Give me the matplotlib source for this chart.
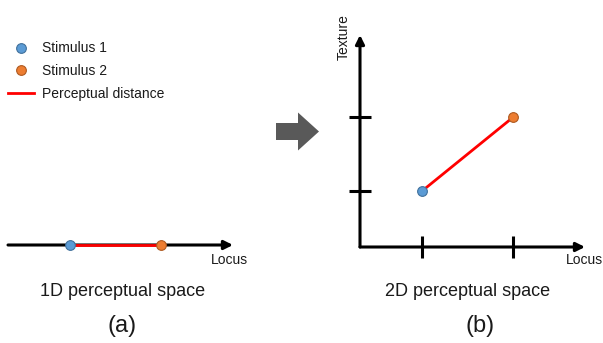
import matplotlib
matplotlib.use("Agg")
import matplotlib.pyplot as plt
from matplotlib.lines import Line2D
from matplotlib.patches import FancyArrow

plt.rcParams['font.family'] = ['Liberation Sans', 'DejaVu Sans']

# positions of the two stimuli (arbitrary units)
locus = [1.0, 2.47]
texture = [1.0, 2.32]
stim_names = ['Stimulus 1', 'Stimulus 2']
stim_colors = ['#5B9BD5', '#ED7D31']
stim_edges = ['#41719C', '#AE5A21']
dist_label = 'Perceptual distance'
titles = ['1D perceptual space', '2D perceptual space']
panels = ['(a)', '(b)']

x_max, y_max = 3.63, 3.79
txt = '#1a1a1a'

fig = plt.figure(figsize=(6.03, 3.43), dpi=100)

# background canvas in pixel units for text / arrow placement
bg = fig.add_axes([0, 0, 1, 1])
bg.set_xlim(0, 603)
bg.set_ylim(343, 0)
bg.axis('off')

# (a) 1D space
ax_a = fig.add_axes([8 / 603, (343 - 245 - 10) / 343, 225 / 603, 20 / 343])
ax_a.set_xlim(0, x_max)
ax_a.set_ylim(-1, 1)
ax_a.axis('off')
ax_a.annotate('', xy=(x_max, 0), xytext=(0, 0),
              arrowprops=dict(arrowstyle='-|>', lw=2.2, color='k',
                              mutation_scale=13, shrinkA=0, shrinkB=0))
ax_a.plot(locus, [0, 0], color='red', lw=2, zorder=3, solid_capstyle='butt')
for x, c, e in zip(locus, stim_colors, stim_edges):
    ax_a.plot(x, 0, 'o', ms=7, color=c, mec=e, mew=0.8, zorder=4, clip_on=False)

# (b) 2D space
ax_b = fig.add_axes([360 / 603, (343 - 247) / 343, 225 / 603, 212 / 343])
ax_b.set_xlim(0, x_max)
ax_b.set_ylim(0, y_max)
for s in ax_b.spines.values():
    s.set_visible(False)
ax_b.set_xticks(locus)
ax_b.set_yticks(texture)
ax_b.tick_params(direction='inout', length=16, width=2.2, color='k',
                 labelbottom=False, labelleft=False)
ax_b.annotate('', xy=(x_max, 0), xytext=(0, 0),
              arrowprops=dict(arrowstyle='-|>', lw=2.2, color='k',
                              mutation_scale=13, shrinkA=0, shrinkB=0))
ax_b.annotate('', xy=(0, y_max), xytext=(0, 0),
              arrowprops=dict(arrowstyle='-|>', lw=2.2, color='k',
                              mutation_scale=13, shrinkA=0, shrinkB=0))
ax_b.plot(locus, texture, color='red', lw=2, zorder=3)
for x, y, c, e in zip(locus, texture, stim_colors, stim_edges):
    ax_b.plot(x, y, 'o', ms=7, color=c, mec=e, mew=0.8, zorder=4, clip_on=False)

# legend
handles = [Line2D([], [], ls='', marker='o', ms=7, color=c, mec=e, mew=0.8)
           for c, e in zip(stim_colors, stim_edges)]
handles.append(Line2D([], [], color='red', lw=2))
fig.legend(handles, stim_names + [dist_label], loc='upper left',
           bbox_to_anchor=(8 / 603, 1 - 41.5 / 343), frameon=False,
           fontsize=10, handlelength=1.87, handletextpad=0.58,
           labelspacing=0.62, borderpad=0, borderaxespad=0, labelcolor=txt)

# axis labels and captions
bg.text(229, 260, 'Locus', fontsize=10, ha='center', va='center', color=txt)
bg.text(584, 260, 'Locus', fontsize=10, ha='center', va='center', color=txt)
bg.text(344, 37, 'Texture', fontsize=10, ha='center', va='center',
        rotation=90, color=txt)
bg.text(123, 292, titles[0], fontsize=13, ha='center', va='center', color=txt)
bg.text(468, 292, titles[1], fontsize=13, ha='center', va='center', color=txt)
bg.text(122, 326, panels[0], fontsize=17, ha='center', va='center', color=txt)
bg.text(480, 326, panels[1], fontsize=17, ha='center', va='center', color=txt)

# transition arrow
bg.add_patch(FancyArrow(276, 131.5, 43, 0, width=17, head_width=38,
                        head_length=21, length_includes_head=True,
                        color='#595959', lw=0))

fig.savefig('out.png', dpi=100)
